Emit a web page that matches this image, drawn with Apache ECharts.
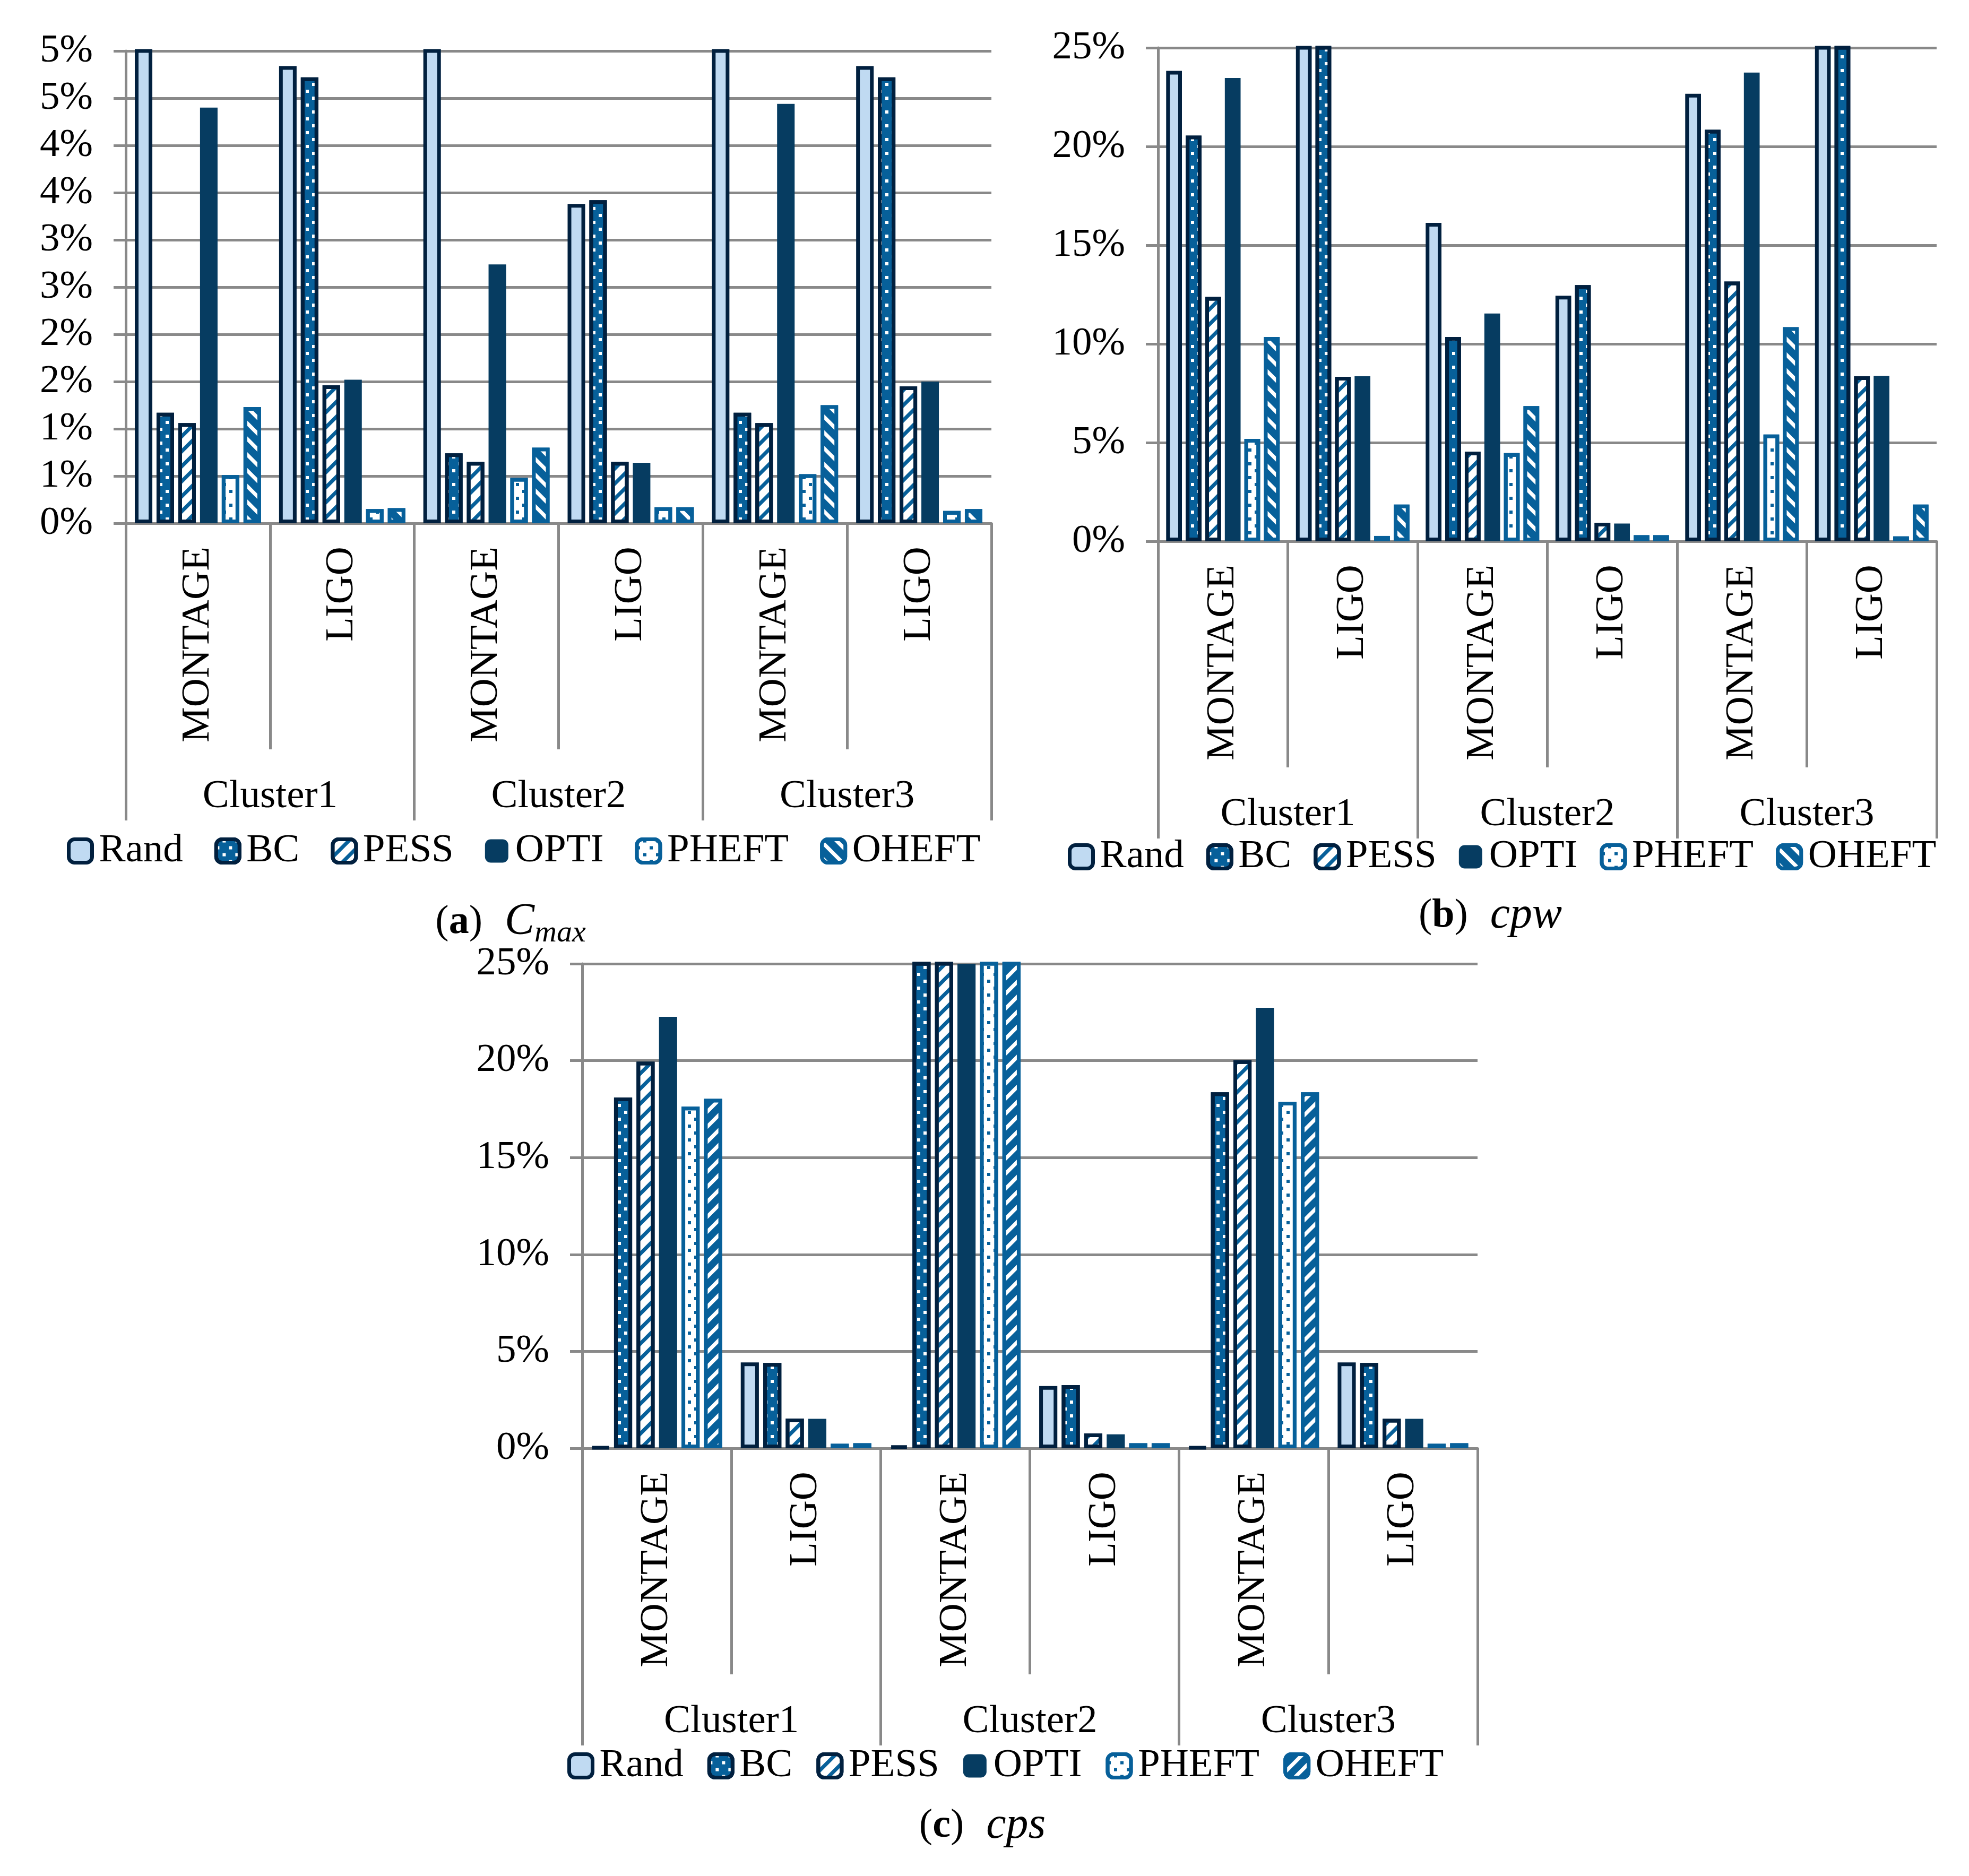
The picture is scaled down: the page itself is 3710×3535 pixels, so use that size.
<!DOCTYPE html>
<html><head><meta charset="utf-8">
<script src="https://cdn.jsdelivr.net/npm/echarts@6/dist/echarts.min.js"></script>
<style>html,body{margin:0;padding:0;background:#fff}#c{width:3710px;height:3535px}</style>
</head><body><div id="c"></div>
<script>
// ---------- data ----------
const subCategories = ['MONTAGE', 'LIGO', 'MONTAGE', 'LIGO', 'MONTAGE', 'LIGO'];
const clusters = ['Cluster1', 'Cluster2', 'Cluster3'];
const seriesNames = ['Rand', 'BC', 'PESS', 'OPTI', 'PHEFT', 'OHEFT'];
const tickLabelsA = ['0%', '1%', '1%', '2%', '2%', '3%', '3%', '4%', '4%', '5%', '5%'];
const tickLabelsB = ['0%', '5%', '10%', '15%', '20%', '25%'];
const tickLabelsC = ['0%', '5%', '10%', '15%', '20%', '25%'];

// (a) Cmax, percent (bars above 5 are cut off at the top of the plot)
const cmaxRand  = [5.5, 4.84, 5.5, 3.38, 5.5, 4.84];
const cmaxBC    = [1.17, 4.72, 0.74, 3.42, 1.17, 4.72];
const cmaxPESS  = [1.06, 1.46, 0.65, 0.65, 1.06, 1.45];
const cmaxOPTI  = [4.40, 1.52, 2.74, 0.64, 4.44, 1.50];
const cmaxPHEFT = [0.51, 0.15, 0.48, 0.17, 0.52, 0.13];
const cmaxOHEFT = [1.23, 0.16, 0.80, 0.17, 1.25, 0.15];

// (b) cpw, percent
const cpwRand  = [23.83, 27, 16.13, 12.44, 22.67, 27];
const cpwBC    = [20.55, 27, 10.35, 12.98, 20.85, 27];
const cpwPESS  = [12.38, 8.33, 4.54, 0.94, 13.16, 8.36];
const cpwOPTI  = [23.47, 8.36, 11.54, 0.90, 23.74, 8.38];
const cpwPHEFT = [5.19, 0.27, 4.47, 0.31, 5.41, 0.25];
const cpwOHEFT = [10.35, 1.86, 6.85, 0.31, 10.85, 1.86];

// (c) cps, percent
const cpsRand  = [0.05, 4.43, 0.12, 3.21, 0.05, 4.43];
const cpsBC    = [18.10, 4.40, 27, 3.26, 18.37, 4.40];
const cpsPESS  = [19.95, 1.53, 27, 0.77, 20.02, 1.52];
const cpsOPTI  = [22.26, 1.52, 27, 0.72, 22.73, 1.52];
const cpsPHEFT = [17.63, 0.23, 27, 0.26, 17.88, 0.23];
const cpsOHEFT = [18.03, 0.26, 27, 0.26, 18.37, 0.26];

// ---------- styles ----------
const FONT = '"Liberation Serif", "Times New Roman", serif';
const DARK = '#01203F', BLUE = '#07609A', NAVY = '#063C61', LIGHT = '#C0DAF2', GRID = '#898989';
const dotsWhite = { symbol: 'rect', symbolSize: 1, color: '#FFFFFF', dashArrayX: [[6, 18], [0, 12, 6, 6]], dashArrayY: [6, 6.5] };
const dotsBlue  = { symbol: 'rect', symbolSize: 1, color: BLUE, dashArrayX: [[6, 18], [0, 12, 6, 6]], dashArrayY: [6, 6.5] };
const stripesBlueFwd = { symbol: 'rect', symbolSize: 1, color: BLUE, dashArrayX: [1, 0], dashArrayY: [7, 13], rotation: -Math.PI / 4 };
const stripesWhiteBack = { symbol: 'rect', symbolSize: 1, color: '#FFFFFF', dashArrayX: [1, 0], dashArrayY: [7, 14], rotation: Math.PI / 4 };
const stripesWhiteFwd = { symbol: 'rect', symbolSize: 1, color: '#FFFFFF', dashArrayX: [1, 0], dashArrayY: [7, 13], rotation: -Math.PI / 4 };

function styleFor(name, chart) {
  switch (name) {
    case 'Rand': return { color: LIGHT, borderColor: DARK, borderWidth: 7 };
    case 'BC': return { color: BLUE, borderColor: DARK, borderWidth: 7, decal: dotsWhite };
    case 'PESS': return { color: '#FFFFFF', borderColor: DARK, borderWidth: 7, decal: stripesBlueFwd };
    case 'OPTI': return { color: NAVY, borderWidth: 0 };
    case 'PHEFT': return { color: '#FFFFFF', borderColor: BLUE, borderWidth: 7, decal: dotsBlue };
    case 'OHEFT': return { color: BLUE, borderColor: BLUE, borderWidth: 7, decal: chart === 2 ? stripesWhiteFwd : stripesWhiteBack };
  }
}

const grids = [
  { left: 237, top: 96, width: 1631, height: 890 },
  { left: 2182, top: 90, width: 1467, height: 930 },
  { left: 1097, top: 1816, width: 1687, height: 913 }
];
const yMax = [5, 25, 25], yInt = [0.5, 5, 5];
const tickSets = [tickLabelsA, tickLabelsB, tickLabelsC];
const valueSets = [
  [cmaxRand, cmaxBC, cmaxPESS, cmaxOPTI, cmaxPHEFT, cmaxOHEFT],
  [cpwRand, cpwBC, cpwPESS, cpwOPTI, cpwPHEFT, cpwOHEFT],
  [cpsRand, cpsBC, cpsPESS, cpsOPTI, cpsPHEFT, cpsOHEFT]
];
const legendPos = [{ left: 126, top: 1566, gap: 59 }, { left: 2012, top: 1577, gap: 42 }, { left: 1069, top: 3290, gap: 45 }];
const titlePos = [{ left: 962, top: 1688 }, { left: 2808, top: 1676 }, { left: 1851, top: 3391 }];
const titleTexts = [
  '{p|(}{b|a}{p|)}{i|C}{s|max}',
  '{p|(}{b|b}{p|)}{i|cpw}',
  '{p|(}{b|c}{p|)}{i|cps}'
];

const xAxis = [], yAxis = [], series = [], legend = [], title = [];
for (let g = 0; g < 3; g++) {
  xAxis.push({
    type: 'category', gridIndex: g, position: 'bottom', data: subCategories,
    axisLine: { show: true, lineStyle: { color: GRID, width: 5 } },
    axisTick: { show: true, interval: 0, length: 426, lineStyle: { color: GRID, width: 5 } },
    axisLabel: { interval: 0, rotate: 90, margin: 44, fontSize: 75, fontFamily: FONT, color: '#000' }
  });
  xAxis.push({
    type: 'category', gridIndex: g, position: 'bottom', data: clusters,
    axisLine: { show: false },
    axisTick: { show: true, interval: 0, length: 560, lineStyle: { color: GRID, width: 5 } },
    axisLabel: { interval: 0, margin: 478, fontSize: 75, fontFamily: FONT, color: '#000' }
  });
  const ticks = tickSets[g];
  yAxis.push({
    type: 'value', gridIndex: g, min: 0, max: yMax[g], interval: yInt[g],
    axisLine: { show: true, lineStyle: { color: GRID, width: 5 } },
    axisTick: { show: true, length: 23, lineStyle: { color: GRID, width: 5 } },
    splitLine: { show: true, lineStyle: { color: GRID, width: 5 } },
    axisLabel: { margin: 62, fontSize: 75, fontFamily: FONT, color: '#000', formatter: (v, i) => ticks[i] }
  });
  seriesNames.forEach((name, k) => {
    series.push({
      type: 'bar', name: name, xAxisIndex: 2 * g, yAxisIndex: g,
      data: valueSets[g][k], barGap: '24%', barCategoryGap: '12.5%',
      itemStyle: styleFor(name, g), emphasis: { disabled: true }, animation: false
    });
  });
  legend.push({
    show: true, orient: 'horizontal', left: legendPos[g].left, top: legendPos[g].top, padding: 0,
    itemWidth: 44, itemHeight: 44, itemGap: legendPos[g].gap, selectedMode: false,
    data: seriesNames.map(n => ({ name: n, itemStyle: styleFor(n, g) })),
    textStyle: { fontSize: 75, fontFamily: FONT, color: '#000', padding: [0, 0, 0, 8] }
  });
  title.push({
    text: titleTexts[g], left: titlePos[g].left, top: titlePos[g].top, textAlign: 'center', padding: 0,
    textStyle: {
      fontFamily: FONT, fontSize: 75, color: '#000', fontWeight: 'normal',
      rich: {
        p: { fontSize: 76, fontFamily: FONT, fontWeight: 'normal', color: '#000', lineHeight: 100 },
        b: { fontSize: 76, fontFamily: FONT, fontWeight: 'bold', color: '#000', lineHeight: 100 },
        i: { fontSize: 84, fontFamily: FONT, fontStyle: 'italic', fontWeight: 'normal', color: '#000', lineHeight: 100, padding: [0, 0, 0, 42] },
        s: { fontSize: 58, fontFamily: FONT, fontStyle: 'italic', fontWeight: 'normal', color: '#000', verticalAlign: 'bottom' }
      }
    }
  });
}

const chart = echarts.init(document.getElementById('c'), null, { renderer: 'canvas' });
chart.setOption({
  animation: false,
  backgroundColor: '#FFFFFF',
  grid: grids,
  xAxis: xAxis,
  yAxis: yAxis,
  legend: legend,
  title: title,
  series: series
});
</script></body></html>
